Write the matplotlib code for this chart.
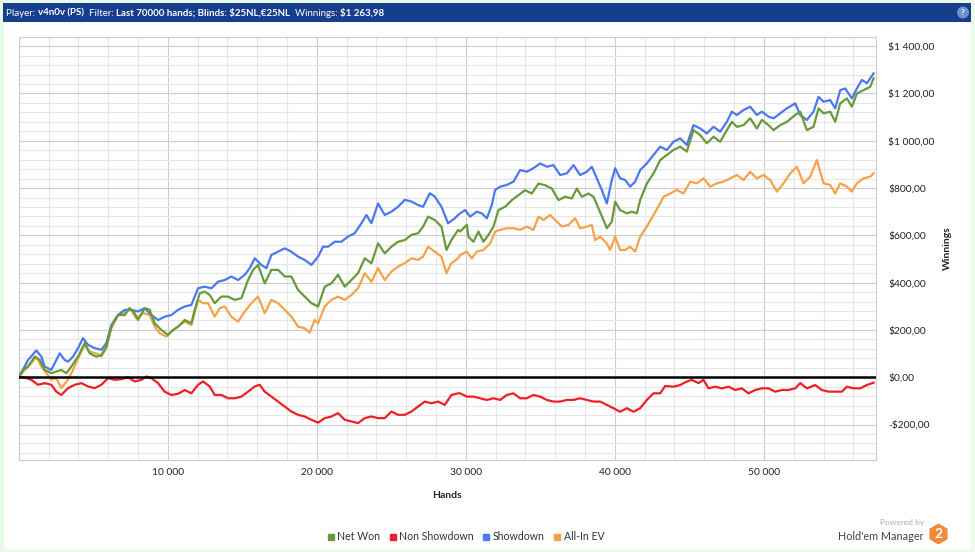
import matplotlib
matplotlib.use("Agg")
import matplotlib.pyplot as plt
from matplotlib.patches import Rectangle, RegularPolygon, Circle
from matplotlib.lines import Line2D
from matplotlib.ticker import MultipleLocator, FuncFormatter

plt.rcParams['font.family'] = ['Lato', 'DejaVu Sans']
plt.rcParams['text.parse_math'] = False

# (hands, winnings $)
showdown = [(0, 0), (400, 45), (624, 73), (1183, 113), (1519, 87), (1743, 45), (2190, 31), (2414, 59), (2749, 101), (3085, 73),
            (3309, 66), (3644, 87), (3980, 123), (4315, 165), (4651, 137), (5098, 123), (5546, 116), (5881, 144), (6217, 221), (6664, 263),
            (7111, 285), (7559, 285), (8006, 278), (8454, 292), (8901, 263), (9348, 242), (9796, 256), (10243, 263), (10691, 285), (11138, 299),
            (11585, 306), (12033, 376), (12480, 383), (12928, 376), (13375, 404), (13822, 411), (14270, 426), (14717, 411), (15165, 433), (15500, 461),
            (15836, 503), (16283, 475), (16619, 461), (16954, 517), (17402, 531), (17849, 545), (18296, 531), (18744, 510), (19191, 496), (19639, 475),
            (20086, 510), (20422, 552), (20757, 552), (21205, 573), (21652, 573), (22099, 595), (22547, 609), (22994, 651), (23330, 686), (23665, 651),
            (24113, 735), (24560, 686), (25007, 700), (25455, 721), (25902, 750), (26350, 743), (26797, 728), (27133, 721), (27580, 778), (27916, 764),
            (28363, 721), (28810, 651), (29258, 672), (29481, 686),
            (29617, 693), (29953, 707), (30288, 679), (30736, 700), (31071, 693), (31407, 672), (31742, 728), (31966, 792), (32302, 806), (32749, 813),
            (33196, 827), (33644, 876), (34091, 869), (34539, 884), (34986, 904), (35433, 890), (35881, 897), (36328, 855), (36776, 862), (37223, 897),
            (37670, 855), (38118, 869), (38453, 890), (38789, 841), (39124, 792), (39460, 735), (39796, 834), (40019, 884), (40355, 841), (40690, 834),
            (41026, 806), (41361, 827), (41697, 876), (42144, 904), (42592, 940), (43039, 975), (43487, 961), (43934, 996), (44381, 1010), (44829, 982),
            (45276, 1066), (45724, 1052), (46171, 1031), (46618, 1059), (47066, 1038), (47513, 1080), (47849, 1123), (48184, 1109), (48632, 1130), (49079, 1144),
            (49527, 1109), (49862, 1123), (50309, 1102), (50645, 1095), (51092, 1116), (51540, 1137), (52099, 1158), (52435, 1109), (52882, 1088), (53329, 1123),
            (53665, 1186), (54001, 1165), (54448, 1172), (54784, 1137), (55119, 1214), (55455, 1221), (55902, 1179), (56238, 1221), (56573, 1257), (56909, 1243),
            (57356, 1285)]

net_won = [(0, 0), (289, 31), (624, 45), (1072, 87), (1407, 73), (1743, 31), (2190, 17), (2526, 24), (2861, 31), (3197, 17),
           (3532, 45), (3980, 87), (4427, 144), (4763, 101), (5210, 87), (5546, 94), (5881, 130), (6217, 214), (6664, 263), (7111, 263),
           (7447, 292), (7783, 271), (8006, 242), (8454, 292), (8789, 285), (9125, 228), (9572, 200), (10020, 179), (10355, 200), (10691, 214),
           (11138, 242), (11585, 228), (11809, 285), (12145, 355), (12480, 362), (12816, 348), (13151, 313), (13599, 341), (14046, 341), (14494, 327),
           (14941, 334), (15388, 411), (15724, 454), (16059, 475), (16507, 397), (16954, 454), (17402, 454), (17849, 426), (18296, 426), (18744, 369),
           (19191, 341), (19639, 313), (20086, 299), (20310, 341), (20533, 383), (20981, 397), (21428, 433), (21876, 383), (22323, 411), (22770, 440),
           (23218, 503), (23665, 482), (24113, 566), (24560, 524), (25007, 552), (25455, 573), (25902, 580), (26350, 602), (26797, 609), (27133, 637),
           (27468, 679), (27916, 665), (28363, 637), (28699, 538), (29034, 580), (29481, 623),
           (29617, 616), (30065, 644), (30176, 594), (30512, 573), (30848, 616), (31183, 573), (31519, 602), (31854, 637), (32190, 707), (32637, 721),
           (33085, 749), (33532, 770), (33979, 791), (34427, 777), (34874, 819), (35322, 812), (35769, 798), (36216, 749), (36664, 763), (37111, 756),
           (37447, 798), (37782, 763), (38229, 777), (38565, 763), (38901, 714), (39236, 665), (39460, 630), (39796, 658), (40019, 742), (40355, 707),
           (40802, 693), (41138, 700), (41473, 693), (41697, 749), (42144, 819), (42592, 862), (43039, 918), (43487, 940), (43934, 961), (44381, 975),
           (44829, 954), (45276, 1045), (45724, 1024), (46171, 989), (46618, 1017), (47066, 996), (47513, 1045), (47849, 1080), (48184, 1059), (48632, 1066),
           (49079, 1095), (49527, 1052), (49862, 1088), (50309, 1066), (50645, 1045), (51092, 1066), (51540, 1080), (52099, 1109), (52435, 1123), (52882, 1045),
           (53329, 1059), (53665, 1137), (54001, 1116), (54448, 1123), (54784, 1080), (55119, 1158), (55566, 1179), (55902, 1144), (56238, 1200), (56685, 1214),
           (57132, 1228), (57356, 1264)]

allin_ev = [(0, 0), (400, 31), (848, 59), (1183, 87), (1519, 45), (1854, 17), (2190, -11), (2526, -4), (2861, -46), (3309, -11),
            (3644, 31), (3980, 80), (4427, 137), (4763, 108), (5210, 101), (5546, 87), (5881, 123), (6217, 207), (6664, 263), (7111, 271),
            (7447, 292), (7894, 249), (8342, 271), (8789, 263), (9125, 214), (9460, 186), (9908, 172), (10243, 193), (10691, 214), (11138, 235),
            (11585, 221), (12033, 327), (12368, 313), (12704, 313), (13151, 256), (13487, 292), (13822, 299), (14270, 256), (14717, 235), (15165, 278),
            (15612, 313), (16059, 341), (16507, 271), (16954, 327), (17402, 313), (17849, 285), (18296, 256), (18744, 214), (19191, 207), (19527, 189),
            (19862, 242), (20086, 228), (20533, 299), (20981, 327), (21428, 341), (21876, 327), (22323, 348), (22770, 376), (23218, 440), (23665, 404),
            (24113, 461), (24560, 411), (25007, 447), (25455, 468), (25902, 482), (26350, 503), (26797, 496), (27133, 510), (27468, 552), (27916, 531),
            (28363, 510), (28699, 440), (29034, 482), (29481, 503),
            (29617, 517), (30065, 531), (30400, 503), (30736, 531), (31183, 538), (31631, 566), (31966, 616), (32302, 623), (32749, 630), (33196, 630),
            (33644, 623), (34091, 637), (34539, 623), (34874, 679), (35210, 665), (35657, 686), (36105, 658), (36440, 637), (36887, 644), (37335, 672),
            (37670, 630), (38118, 637), (38453, 644), (38677, 580), (39013, 594), (39460, 566), (39684, 538), (40019, 594), (40355, 538), (40690, 538),
            (41026, 552), (41361, 531), (41697, 594), (42144, 637), (42592, 686), (43039, 735), (43263, 763), (43710, 777), (44158, 792), (44605, 777),
            (45053, 827), (45500, 820), (45947, 841), (46395, 806), (46842, 820), (47290, 827), (47737, 841), (48184, 855), (48632, 834), (49079, 869),
            (49527, 841), (49974, 855), (50421, 834), (50869, 785), (51316, 820), (51763, 862), (52211, 890), (52658, 820), (53106, 848), (53553, 918),
            (54001, 820), (54448, 813), (54784, 777), (55119, 820), (55566, 806), (55902, 785), (56238, 820), (56685, 841), (57132, 848), (57356, 862)]

non_showdown = [(0, 0), (400, 0), (848, -11), (1295, -32), (1743, -25), (2190, -32), (2526, -61), (2861, -75), (3309, -46), (3756, -32),
                (4203, -25), (4651, -39), (5098, -46), (5546, -32), (5993, -4), (6440, -11), (6888, -8), (7335, 0), (7783, -18), (8230, -11),
                (8565, 3), (8901, -4), (9348, -25), (9796, -61), (10243, -75), (10691, -70), (11138, -54), (11585, -68), (12033, -32), (12368, -18),
                (12816, -39), (13151, -75), (13599, -75), (14046, -89), (14494, -89), (14941, -82), (15388, -61), (15836, -39), (16171, -32), (16507, -61),
                (16954, -82), (17402, -103), (17849, -124), (18296, -145), (18744, -159), (19191, -166), (19639, -180), (20086, -192), (20533, -173), (20981, -166),
                (21428, -152), (21876, -180), (22323, -187), (22770, -194), (23218, -173), (23665, -166), (24113, -173), (24560, -173), (25007, -145), (25455, -159),
                (25902, -159), (26350, -145), (26797, -124), (27244, -103), (27692, -110), (28139, -103), (28587, -117), (29034, -75), (29481, -68),
                (29617, -68), (30065, -82), (30512, -82), (30959, -89), (31407, -96), (31854, -89), (32302, -96), (32749, -75), (33196, -68), (33644, -89),
                (34091, -89), (34539, -75), (34986, -82), (35433, -96), (35881, -103), (36328, -103), (36776, -96), (37223, -96), (37670, -89), (38118, -96),
                (38565, -103), (39013, -103), (39460, -117), (39907, -131), (40355, -146), (40802, -131), (41250, -146), (41697, -131), (42144, -96), (42592, -68),
                (43039, -68), (43375, -37), (43934, -40), (44381, -33), (44829, -18), (45164, -11), (45612, -25), (45947, -11), (46283, -47), (46730, -40),
                (47178, -47), (47625, -40), (48072, -54), (48520, -47), (48967, -68), (49415, -54), (49862, -47), (50309, -47), (50757, -61), (51204, -54),
                (51651, -54), (52099, -47), (52435, -25), (52882, -47), (53441, -33), (53889, -54), (54336, -61), (54784, -61), (55231, -61), (55566, -40),
                (56014, -47), (56461, -47), (56909, -33), (57356, -23)]

series_names = ["Net Won", "Non Showdown", "Showdown", "All-In EV"]
series_colors = ["#669a3b", "#ee1f25", "#4a78ee", "#f7a149"]

header = [("Player: ", "normal"), ("v4n0v (PS)", "bold"), ("  Filter: ", "normal"),
          ("Last 70000 hands; Blinds: $25NL,€25NL", "bold"), ("  Winnings: ", "normal"), ("$1 263,98", "bold")]

fig = plt.figure(figsize=(9.75, 5.52), dpi=100)
fig.patch.set_facecolor("#e9fbe9")

# background panel / header / logo in pixel coordinates
bg = fig.add_axes([0, 0, 1, 1], zorder=0)
bg.set_xlim(0, 975)
bg.set_ylim(552, 0)
bg.axis("off")
bg.add_patch(Rectangle((4, 3), 967, 546, facecolor="white", edgecolor="none"))
bg.add_patch(Rectangle((3, 3), 968, 18.5, facecolor="#173e8c", edgecolor="none"))
bg.add_patch(Circle((963, 12.5), 6, facecolor="#6a93d0", edgecolor="none"))
bg.text(963, 12.8, "?", color="white", fontsize=6, fontweight="bold", ha="center", va="center")

t = bg.text(6, 13, header[0][0], color="white", fontsize=7, fontweight=header[0][1], ha="left", va="center")
for s, w in header[1:]:
    t = bg.annotate(s, xy=(1, 0), xycoords=t, ha="left", va="bottom", color="white", fontsize=7, fontweight=w)

bg.text(447, 495, "Hands", fontsize=7.5, fontweight="bold", ha="center", va="center", color="#222222")
bg.text(947, 248, "Winnings", fontsize=7.5, fontweight="bold", ha="center", va="center", rotation=90, color="#222222")

bg.text(924, 523, "Powered by", fontsize=6, color="#aaaaaa", ha="right", va="center")
bg.text(924, 537, "Hold'em Manager", fontsize=7.8, color="#444444", ha="right", va="center")
bg.add_patch(RegularPolygon((938.5, 534), numVertices=6, radius=10.5, orientation=0, facecolor="#f08a3a", edgecolor="none"))
bg.text(938.5, 534.5, "2", fontsize=10, fontweight="bold", color="white", ha="center", va="center")

# main chart
ax = fig.add_axes([18.7 / 975, 1 - 460 / 552, 857 / 975, 423.3 / 552], zorder=1)
ax.set_facecolor("white")

order = [3, 2, 1, 0]  # draw All-In EV first, Net Won on top
data = [net_won, non_showdown, showdown, allin_ev]
for i in order:
    xs, ys = zip(*data[i])
    ax.plot(xs, ys, color=series_colors[i], lw=1.6, zorder=3 + (3 - i), solid_joinstyle="round")
ax.axhline(0, color="black", lw=1.8, zorder=10)

ax.set_xlim(0, 57500)
ax.set_ylim(-350, 1440)
ax.xaxis.set_major_locator(MultipleLocator(10000))
ax.xaxis.set_minor_locator(MultipleLocator(2000))
ax.yaxis.set_major_locator(MultipleLocator(200))
ax.yaxis.set_minor_locator(MultipleLocator(40))
ax.grid(which="major", color="#cccccc", lw=0.8)
ax.grid(which="minor", color="#e6e6e6", lw=0.8)
ax.set_axisbelow(True)


def money(v, pos):
    s = f"{abs(v):,.2f}".replace(",", " ").replace(".", ",")
    return ("-$" if v < 0 else "$") + s


ax.yaxis.set_major_formatter(FuncFormatter(money))
ax.xaxis.set_major_formatter(FuncFormatter(lambda v, p: "" if v <= 0 else f"{int(v):,}".replace(",", " ")))
ax.yaxis.tick_right()
ax.tick_params(axis="y", which="both", length=0, pad=9, labelsize=7.4, labelcolor="#222222")
ax.tick_params(axis="x", which="both", length=0, pad=6, labelsize=7.4, labelcolor="#222222")
for sp in ax.spines.values():
    sp.set_color("#cccccc")
    sp.set_linewidth(0.8)

handles = [Line2D([], [], marker="s", ls="none", color=c, markersize=4.5) for c in series_colors]
fig.legend(handles, series_names, loc="center", bbox_to_anchor=(466 / 975, 1 - 537 / 552), ncol=4,
           frameon=False, fontsize=7.6, handlelength=0.6, handletextpad=0.3, columnspacing=0.9,
           labelcolor="#333333")

fig.savefig("out.png", dpi=100, facecolor=fig.get_facecolor())
